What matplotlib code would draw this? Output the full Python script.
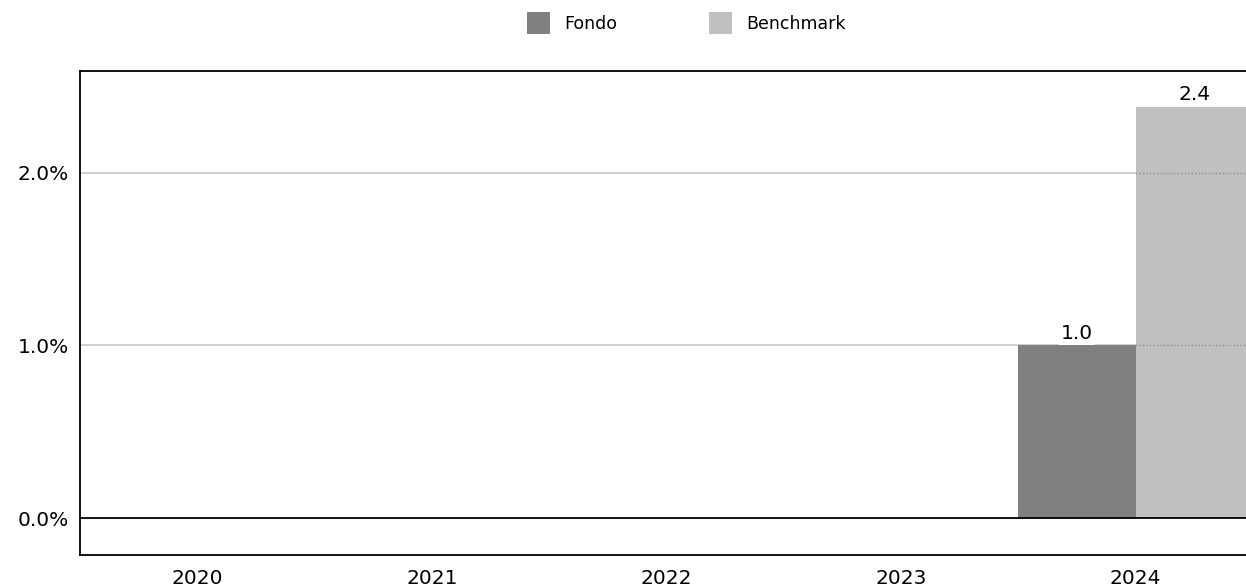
import matplotlib.pyplot as plt
import numpy as np

anni = ['2020', '2021', '2022', '2023', '2024']
fondo = [np.nan, np.nan, np.nan, np.nan, 1.0]
benchmark = [np.nan, np.nan, np.nan, np.nan, 2.38]
etichette_fondo = ['', '', '', '', '1.0']
etichette_bench = ['', '', '', '', '2.4']

plt.rcParams['font.family'] = ['DejaVu Sans']

fig = plt.figure(figsize=(12.46, 5.88), dpi=100)
ax = fig.add_axes([80/1246, 1 - 555/588, 1173/1246, (555-71)/588])

x = np.arange(len(anni))
w = 0.5
b1 = ax.bar(x - w/2, fondo, w, color='#808080', label='Fondo', zorder=2)
b2 = ax.bar(x + w/2, benchmark, w, color='#c0c0c0', label='Benchmark', zorder=2)

ax.set_xlim(-0.5, 4.5)
ax.set_ylim(-0.214, 2.59)
ax.set_yticks([0, 1, 2])
ax.set_yticklabels(['0.0%', '1.0%', '2.0%'])
ax.set_xticks(x)
ax.set_xticklabels(anni)
ax.tick_params(length=0, labelsize=14.5)
ax.tick_params(axis='x', pad=10)
ax.tick_params(axis='y', pad=8)

# griglia chiara dietro, tratteggiata sopra le barre
for y in [1, 2]:
    ax.axhline(y, color='#c8c8c8', lw=1.2, zorder=1)
    for barre in (b1, b2):
        for p in barre:
            if np.isfinite(p.get_height()) and p.get_height() > y:
                ln = ax.axhline(y, color='#909090', lw=1, ls=(0, (1, 1.5)), zorder=3)
                ln.set_clip_path(p)
ax.axhline(0, color='black', lw=1.3, zorder=4)

for barre, etich in ((b1, etichette_fondo), (b2, etichette_bench)):
    for p, t in zip(barre, etich):
        if t:
            ax.annotate(t, (p.get_x() + p.get_width()/2, p.get_height()),
                        textcoords='offset points', xytext=(0, 2), ha='center', va='bottom',
                        fontsize=14.5, zorder=5,
                        bbox=dict(boxstyle='square,pad=0.1', fc='white', ec='none'))

for s in ax.spines.values():
    s.set_color('black')
    s.set_linewidth(1.3)

fig.legend(loc='upper center', bbox_to_anchor=(0.551, 1.007), ncol=2, frameon=False,
           fontsize=12.5, handlelength=1.32, handleheight=1.65, columnspacing=5.3, handletextpad=0.8)

fig.savefig('out.png', dpi=100)
